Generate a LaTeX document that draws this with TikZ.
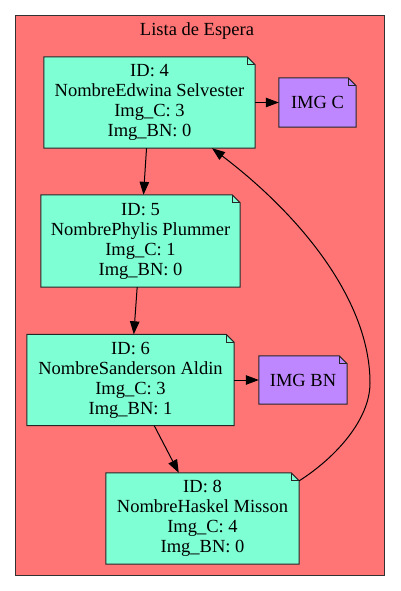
\documentclass[tikz,border=0pt]{standalone}
\usepackage{fontspec}
\setmainfont{Liberation Serif}
\usetikzlibrary{arrows.meta,calc}
\pgfdeclarelayer{bg}
\pgfdeclarelayer{shp}
\pgfsetlayers{bg,shp,main}
\definecolor{clusterfill}{RGB}{255,117,117}
\definecolor{nodefill}{RGB}{127,255,212}
\definecolor{imgfill}{RGB}{191,135,255}
\definecolor{clusterline}{RGB}{50,50,50}
\tikzset{
  notebox/.style={inner sep=0pt, align=center, text=black, font=\fontsize{18.5}{20}\selectfont},
  notestroke/.style={draw=black!85, line width=1pt, line join=miter},
  clusterbox/.style={draw=clusterline, fill=clusterfill, line width=1pt, inner sep=0pt},
  titletext/.style={inner sep=0pt, anchor=base, font=\fontsize{18.5}{20}\selectfont},
  edge/.style={line width=1pt, -{Triangle[length=13pt,width=9.5pt]}},
}
\newcommand\drawnote[2]{%
  \begin{pgfonlayer}{shp}
    \draw[notestroke, fill=#2] (#1.south west) -- (#1.south east) -- ([yshift=-8pt]#1.north east)
      -- ([xshift=-8pt]#1.north east) -- (#1.north west) -- cycle;
    \draw[notestroke] ([xshift=-8pt]#1.north east) -- ([xshift=-8pt,yshift=-8pt]#1.north east)
      -- ([yshift=-8pt]#1.north east);
  \end{pgfonlayer}}
\begin{document}
\begin{tikzpicture}[x=1pt,y=-1pt]
\begin{pgfonlayer}{bg}
  \fill[white] (0,0) rectangle (400,591);
  \node[clusterbox, minimum width=368.5pt, minimum height=559.5pt] (cl) at (199.75,295.25) {};
\end{pgfonlayer}
\useasboundingbox (0,0) rectangle (400,591);
\node[titletext] (title) at (197,36) {Lista de Espera};

\node[notebox, minimum width=211pt, minimum height=91pt] (n4) at (149.5,102.5)
  {ID: 4\\NombreEdwina Selvester\\Img\_C: 3\\Img\_BN: 0};
\drawnote{n4}{nodefill}
\node[notebox, minimum width=77pt, minimum height=49pt] (imgc) at (317.5,102.5) {IMG C};
\drawnote{imgc}{imgfill}
\node[notebox, minimum width=199pt, minimum height=92pt] (n5) at (140.5,241)
  {ID: 5\\NombrePhylis Plummer\\Img\_C: 1\\Img\_BN: 0};
\drawnote{n5}{nodefill}
\node[notebox, minimum width=207pt, minimum height=91pt] (n6) at (130.5,380)
  {ID: 6\\NombreSanderson Aldin\\Img\_C: 3\\Img\_BN: 1};
\drawnote{n6}{nodefill}
\node[notebox, minimum width=88pt, minimum height=48pt] (imgbn) at (303,380) {IMG BN};
\drawnote{imgbn}{imgfill}
\node[notebox, minimum width=193pt, minimum height=91pt] (n8) at (202.5,518.5)
  {ID: 8\\NombreHaskel Misson\\Img\_C: 4\\Img\_BN: 0};
\drawnote{n8}{nodefill}

\draw[edge] (n4) -- (n5);
\draw[edge] (n5) -- (n6);
\draw[edge] (n6) -- (n8);
\draw[edge] (n4.east) -- (imgc.west);
\draw[edge] (n6.east) -- (imgbn.west);
\coordinate (bend) at (370,383);
\coordinate (n4in) at ([xshift=62.5pt]n4.south);
\draw[edge] ([yshift=-8pt]n8.north east) .. controls (335,458) and (370,420) .. (bend)
  .. controls (370,300) and (300,215) .. (n4in);
\end{tikzpicture}
\end{document}
